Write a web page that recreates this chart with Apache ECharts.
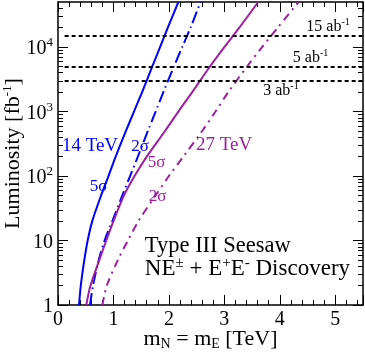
<!DOCTYPE html>
<html>
<head>
<meta charset="utf-8">
<script src="https://cdn.jsdelivr.net/npm/echarts@6/dist/echarts.min.js"></script>
<style>
  html, body { margin: 0; padding: 0; background: #fff; }
  #chart { width: 365px; height: 354px; }
</style>
</head>
<body>
<div id="chart"></div>
<script>
// luminosity grid [fb^-1] and the mass reach [TeV]
var lumi = [1, 2, 5, 10, 20, 50, 100, 200, 500, 1000, 2000, 5000, 10000, 20000, 50000];
var mass14_5s = [0.379, 0.411, 0.475, 0.535, 0.618, 0.777, 0.91, 1.04, 1.225, 1.37, 1.517, 1.70, 1.84, 1.98, 2.17];
var mass14_2s = [0.577, 0.632, 0.735, 0.84, 0.98, 1.16, 1.30, 1.44, 1.62, 1.76, 1.90, 2.09, 2.24, 2.39, 2.57];
var mass27_5s = [0.51, 0.586, 0.745, 0.87, 1.0, 1.19, 1.38, 1.60, 1.93, 2.17, 2.42, 2.74, 3.0, 3.27, 3.61];
var mass27_2s = [0.80, 0.88, 1.08, 1.26, 1.45, 1.76, 2.0, 2.26, 2.60, 2.84, 3.07, 3.41, 3.68, 3.96, 4.34];

// benchmark luminosities (15, 5, 3 ab^-1)
var targetLumi = [15000, 5000, 3000];

var yMajor = [1, 10, 100, 1000, 10000];
var xMin = 0, xMax = 5.5, yMin = 1, yMax = 50000;

var BLUE = '#0000ff';
var PURPLE = '#9e1e9e';
var FONT = 'Liberation Serif';

// minor ticks 2..9 per decade
var yMinor = [];
for (var d = 1; d <= 10000; d *= 10) {
    for (var k = 2; k <= 9; k++) {
        if (k * d < yMax) yMinor.push(k * d);
    }
}

function pairs(xs) {
    return xs.map(function (m, i) { return [m, lumi[i]]; });
}

var supRich = {
    sup: { fontSize: 13, fontFamily: FONT, padding: [0, 0, 12, 0] },
    sub: { fontSize: 14, fontFamily: FONT, padding: [10, 0, 0, 0] }
};

function yLabel(v) {
    if (v === 1) return '1';
    if (v === 10) return '10';
    return '10{sup|' + Math.round(Math.log10(v)) + '}';
}

var chart = echarts.init(document.getElementById('chart'), null, { renderer: 'canvas' });

// text annotations, placed in data coordinates
function note(text, m, L, color, size, pos) {
    return {
        coord: [m, L],
        symbol: 'circle',
        symbolSize: 0,
        label: {
            show: true,
            position: pos || 'inside',
            distance: 0,
            formatter: text,
            color: color,
            fontSize: size,
            fontFamily: FONT,
            rich: {
                sup: { fontSize: Math.round(size * 0.65), fontFamily: FONT, color: color, padding: [0, 0, Math.round(size * 0.55), 0] }
            }
        }
    };
}

var notes = [
    note('14 TeV', 0.577, 287, BLUE, 19),
    note('2σ', 1.479, 282, BLUE, 17),
    note('5σ', 0.73, 68, BLUE, 17),
    note('5σ', 1.776, 162, PURPLE, 17),
    note('2σ', 1.794, 48, PURPLE, 17),
    note('27 TeV', 2.994, 303, PURPLE, 19),
    note('15 ab{sup|-1}', 4.87, 20700, '#000', 16),
    note('5 ab{sup|-1}', 4.554, 6700, '#000', 16),
    note('3 ab{sup|-1}', 4.02, 2130, '#000', 16),
    note('Type III Seesaw', 1.566, 8.27, '#000', 22.5, 'right'),
    note('NE{sup|±} + E{sup|+}E{sup|-} Discovery', 1.566, 3.56, '#000', 23, 'right')
];

var lines = targetLumi.map(function (L) {
    return [{ coord: [0.12, L] }, { coord: [xMax, L] }];
});

var axisLine = { show: true, lineStyle: { color: '#000', width: 1.5 } };

function curve(name, xs, color, type) {
    return {
        name: name,
        type: 'line',
        data: pairs(xs),
        showSymbol: false,
        smooth: 0.3,
        clip: true,
        lineStyle: { color: color, width: 2, type: type },
        z: 3
    };
}

function minorAxis(pos) {
    return {
        type: 'log', logBase: 10, min: yMin, max: yMax, position: pos,
        axisLine: { show: false },
        axisTick: { show: true, inside: true, length: 5, customValues: yMinor, lineStyle: { color: '#000', width: 1 } },
        splitLine: { show: false },
        axisLabel: { show: false }
    };
}

var option = {
    animation: false,
    backgroundColor: '#fff',
    grid: { left: 58, right: 2, top: 2, bottom: 49, containLabel: false, outerBoundsMode: 'none' },
    xAxis: [{
        type: 'value', min: xMin, max: xMax, interval: 1, position: 'bottom',
        axisLine: axisLine,
        axisTick: { inside: true, length: 10, lineStyle: { color: '#000', width: 1 } },
        minorTick: { show: true, splitNumber: 5, length: 5, lineStyle: { color: '#000', width: 1 } },
        splitLine: { show: false },
        axisLabel: {
            color: '#000', fontSize: 20, fontFamily: FONT, margin: 5,
            formatter: function (v) { return Number.isInteger(v) ? String(v) : ''; }
        },
        name: 'm{sub|N} = m{sub|E} [TeV]',
        nameLocation: 'middle',
        nameGap: 22,
        nameMoveOverlap: false,
        nameTextStyle: { color: '#000', fontSize: 22, fontFamily: FONT, rich: supRich }
    }, {
        type: 'value', min: xMin, max: xMax, interval: 1, position: 'top',
        axisLine: axisLine,
        axisTick: { inside: true, length: 10, lineStyle: { color: '#000', width: 1 } },
        minorTick: { show: true, splitNumber: 5, length: 5, lineStyle: { color: '#000', width: 1 } },
        splitLine: { show: false },
        axisLabel: { show: false }
    }],
    yAxis: [{
        type: 'log', logBase: 10, min: yMin, max: yMax, position: 'left',
        axisLine: axisLine,
        axisTick: { inside: true, length: 10, customValues: yMajor, lineStyle: { color: '#000', width: 1 } },
        splitLine: { show: false },
        axisLabel: {
            customValues: yMajor, color: '#000', fontSize: 20, fontFamily: FONT, margin: 5,
            padding: [4, 0, 0, 0],
            formatter: yLabel, rich: supRich
        },
        name: 'Luminosity [fb{sup|-1}]',
        nameLocation: 'middle',
        nameGap: 32,
        nameMoveOverlap: false,
        nameTextStyle: { color: '#000', fontSize: 22, fontFamily: FONT, rich: supRich }
    },
    minorAxis('left'),
    {
        type: 'log', logBase: 10, min: yMin, max: yMax, position: 'right',
        axisLine: axisLine,
        axisTick: { inside: true, length: 10, customValues: yMajor, lineStyle: { color: '#000', width: 1 } },
        splitLine: { show: false },
        axisLabel: { show: false }
    },
    minorAxis('right')],
    series: [
        curve('14 TeV 5σ', mass14_5s, BLUE, 'solid'),
        curve('14 TeV 2σ', mass14_2s, BLUE, [12, 4, 1.5, 4]),
        curve('27 TeV 5σ', mass27_5s, PURPLE, 'solid'),
        curve('27 TeV 2σ', mass27_2s, PURPLE, [8, 5, 2, 5]),
        {
            name: 'notes',
            type: 'line',
            data: [],
            silent: true,
            markLine: {
                silent: true,
                symbol: 'none',
                label: { show: false },
                lineStyle: { color: '#000', type: [4, 3], width: 2 },
                data: lines
            },
            markPoint: {
                silent: true,
                data: notes
            }
        }
    ]
};

chart.setOption(option);
</script>
</body>
</html>
